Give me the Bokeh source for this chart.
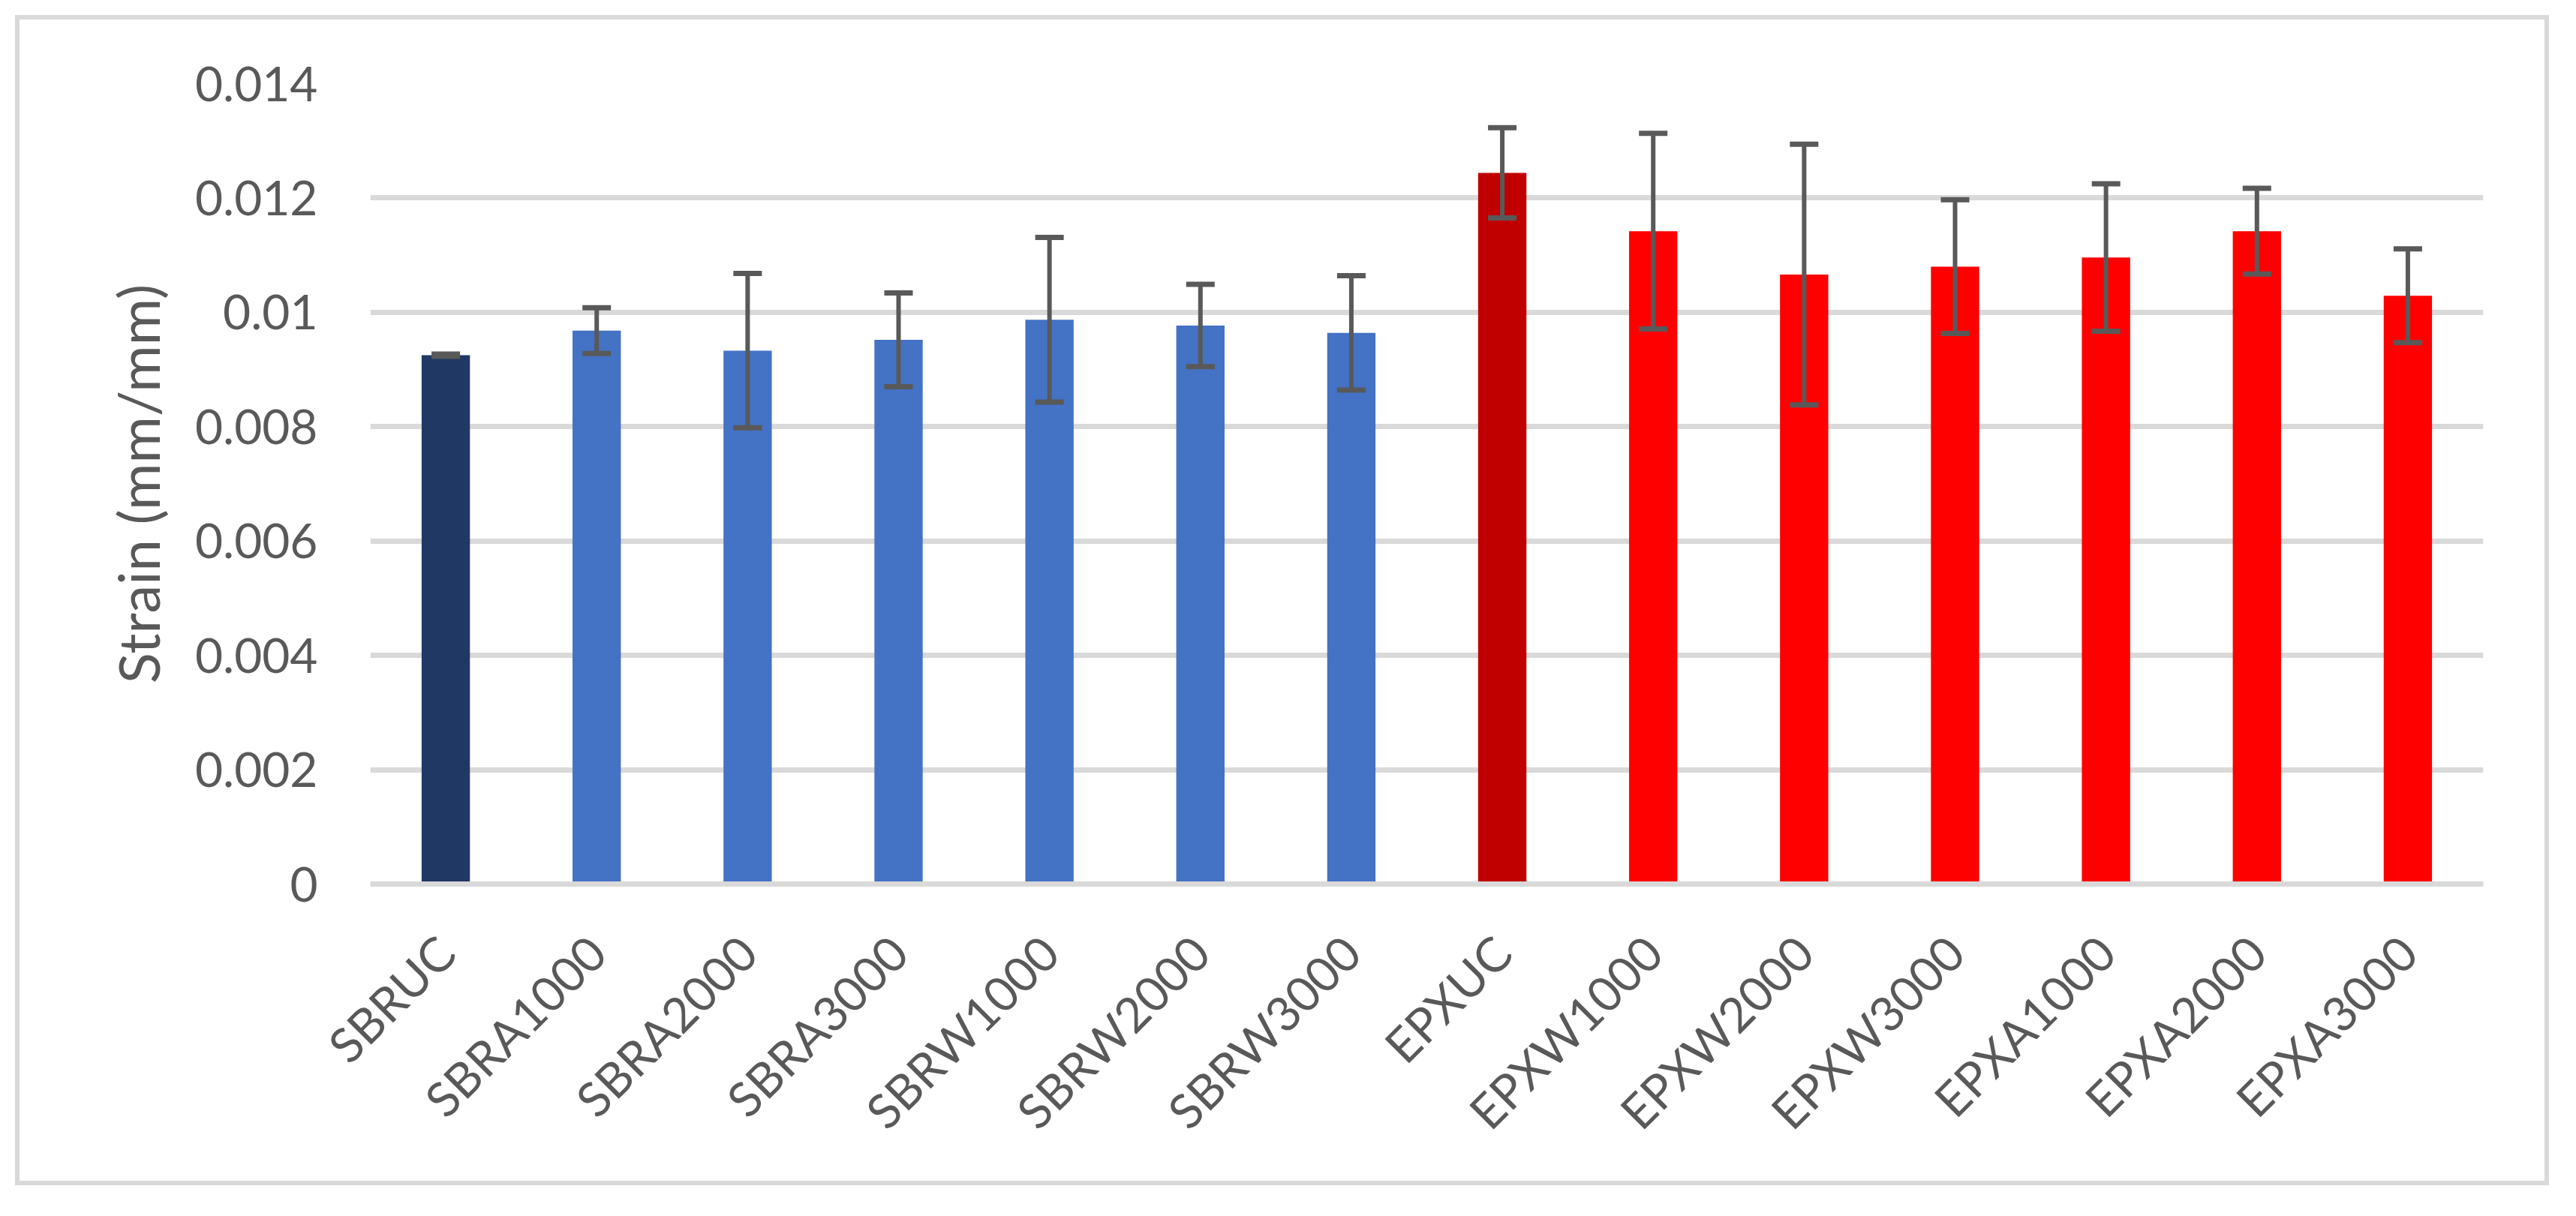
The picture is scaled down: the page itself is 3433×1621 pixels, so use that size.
import math
from bokeh.plotting import figure
from bokeh.models import ColumnDataSource, FactorRange, Range1d, FixedTicker, Whisker, TeeHead
from bokeh.embed import file_html
from bokeh.resources import INLINE

# ---- data ----
categories = ["SBRUC", "SBRA1000", "SBRA2000", "SBRA3000", "SBRW1000", "SBRW2000", "SBRW3000",
              "EPXUC", "EPXW1000", "EPXW2000", "EPXW3000", "EPXA1000", "EPXA2000", "EPXA3000"]
strain = [0.00925, 0.00968, 0.00933, 0.00952, 0.00987, 0.00977, 0.00964,
          0.01244, 0.01142, 0.01066, 0.01080, 0.01096, 0.01142, 0.01029]
strain_err = [0.00002, 0.00040, 0.00135, 0.00082, 0.00144, 0.00072, 0.00100,
              0.00079, 0.00171, 0.00228, 0.00117, 0.00129, 0.00075, 0.00082]
bar_colors = ["#1F3864", "#4472C4", "#4472C4", "#4472C4", "#4472C4", "#4472C4", "#4472C4",
              "#C00000", "#FF0000", "#FF0000", "#FF0000", "#FF0000", "#FF0000", "#FF0000"]
y_ticks = [0.0, 0.002, 0.004, 0.006, 0.008, 0.01, 0.012, 0.014]
y_tick_labels = ["0", "0.002", "0.004", "0.006", "0.008", "0.01", "0.012", "0.014"]
y_title = "Strain (mm/mm)"

upper = [v + e for v, e in zip(strain, strain_err)]
lower = [v - e for v, e in zip(strain, strain_err)]
src = ColumnDataSource(dict(cat=categories, val=strain, upper=upper, lower=lower, color=bar_colors))

TEXT = "#595959"
GRID = "#D9D9D9"
FONT = "Lato"

p = figure(x_range=FactorRange(factors=categories, range_padding=0, factor_padding=0),
           y_range=Range1d(0, 0.014),
           width=3417, height=1600, output_backend="svg", toolbar_location=None,
           min_border_left=493, min_border_right=108, min_border_top=111, min_border_bottom=422)
p.outline_line_color = None
p.background_fill_color = "white"
p.border_fill_color = None
p.styles = {"outline": "6px solid #D9D9D9", "outline-offset": "-26px"}

p.vbar(x="cat", top="val", width=0.32, color="color", line_color=None, source=src)

head_kw = dict(size=38, line_color=TEXT, line_width=7)
wh = Whisker(base="cat", upper="upper", lower="lower", source=src, level="overlay",
             line_color=TEXT, line_width=6,
             upper_head=TeeHead(**head_kw), lower_head=TeeHead(**head_kw))
p.add_layout(wh)

# y axis
p.yaxis.ticker = FixedTicker(ticks=y_ticks)
p.yaxis.major_label_overrides = dict(zip(y_ticks, y_tick_labels))
p.yaxis.axis_line_color = None
p.yaxis.major_tick_line_color = None
p.yaxis.minor_tick_line_color = None
p.yaxis.major_tick_out = 0
p.yaxis.major_label_standoff = 70
p.yaxis.major_label_text_font = FONT
p.yaxis.major_label_text_font_size = "64px"
p.yaxis.major_label_text_color = TEXT
p.yaxis.axis_label = y_title
p.yaxis.axis_label_text_font = FONT
p.yaxis.axis_label_text_font_size = "76px"
p.yaxis.axis_label_text_font_style = "normal"
p.yaxis.axis_label_text_color = TEXT
p.yaxis.axis_label_standoff = 28

# x axis
p.xaxis.axis_line_color = GRID
p.xaxis.axis_line_width = 7
p.xaxis.major_tick_line_color = None
p.xaxis.minor_tick_line_color = None
p.xaxis.major_tick_out = 0
p.xaxis.major_label_standoff = 80
p.xaxis.major_label_orientation = math.pi / 4
p.xaxis.major_label_text_font = FONT
p.xaxis.major_label_text_font_size = "64px"
p.xaxis.major_label_text_color = TEXT

# grid
p.xgrid.visible = False
p.ygrid.ticker = FixedTicker(ticks=y_ticks)
p.ygrid.grid_line_color = GRID
p.ygrid.grid_line_width = 7

open("out.html", "w").write(file_html(p, INLINE))
